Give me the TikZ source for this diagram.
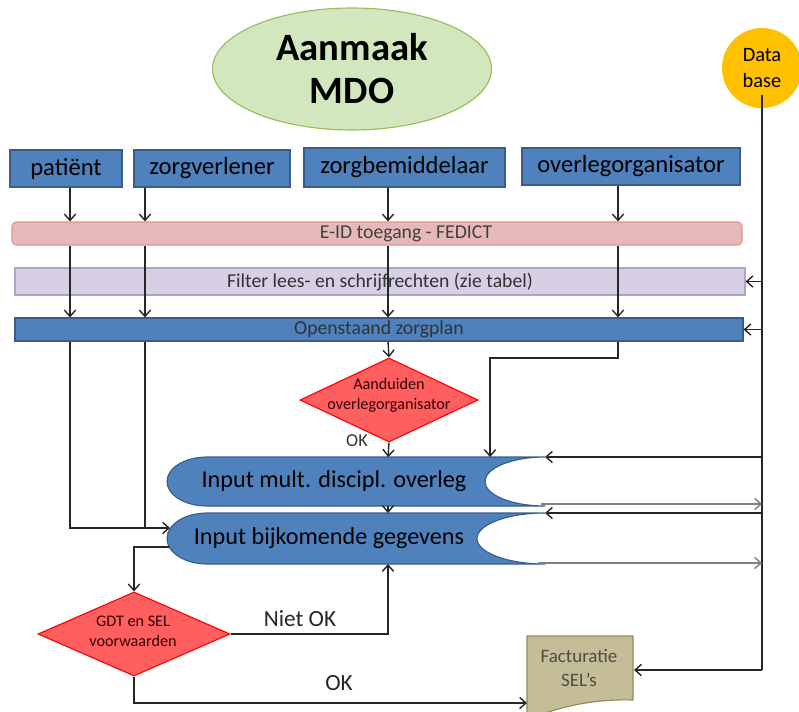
\documentclass[tikz,border=0pt]{standalone}
\usepackage{fontspec}
\setmainfont{Carlito}
\usetikzlibrary{shapes.geometric,arrows.meta,positioning}

\definecolor{blauw}{HTML}{4F81BD}
\definecolor{blauwrand}{HTML}{385D8A}
\definecolor{roze}{HTML}{E6B9B8}
\definecolor{rozerand}{HTML}{D99694}
\definecolor{lila}{HTML}{D7CFE4}
\definecolor{lilarand}{HTML}{B3A2C7}
\definecolor{rood}{HTML}{FF5F5F}
\definecolor{groen}{HTML}{D3E7BF}
\definecolor{groenrand}{HTML}{9BBB59}
\definecolor{oranje}{HTML}{FFC000}
\definecolor{kaki}{HTML}{C4BD97}
\definecolor{kakirand}{HTML}{948A54}

\newcommand{\pxs}{0.025cm}

\tikzset{
    actor/.style={
           rectangle,
           draw=blauwrand, fill=blauw, line width=0.8pt,
           minimum height=37*\pxs,
           inner sep=0pt,
           text=black,
           font=\fontsize{17.5}{20}\selectfont,
           },
    balk/.style={
           rectangle,
           line width=0.8pt,
           inner sep=0pt,
           minimum width=730*\pxs,
           text=black!80,
           },
    keuze/.style={
           diamond,
           draw=red, fill=rood, line width=0.8pt,
           inner sep=0pt,
           },
    keuzetekst/.style={
           align=center,
           text=red!20!black,
           font=\fontsize{11.5}{14}\selectfont,
           },
    invoer/.style={
           draw=blauwrand, fill=blauw, line width=0.8pt,
           },
    invoertekst/.style={
           text=black,
           font=\fontsize{17.2}{19}\selectfont,
           },
    pijl/.style={
           -{Straight Barb[length=4.5pt,width=8pt]},
           line width=1pt, draw=black!85,
           },
    grijs/.style={draw=black!50},
    etiket/.style={font=\fontsize{16.5}{19}\selectfont, text=black!85},
}

\begin{document}
\begin{tikzpicture}[x=\pxs, y=-\pxs]
    \useasboundingbox (0,0) rectangle (799,711);

    % titel en database
    \node[ellipse, draw=groenrand, fill=groen, line width=0.8pt,
        minimum width=279*\pxs, minimum height=122*\pxs, inner sep=0pt,
        align=center, font=\bfseries\fontsize{27.5}{30.5}\selectfont] (titel) at (352,69) {Aanmaak\\MDO};
    \node[circle, fill=oranje, minimum size=80*\pxs, inner sep=0pt,
        align=center, font=\fontsize{14.5}{18}\selectfont] (db) at (762,68) {Data\\base};

    % actoren
    \node[actor, minimum width=112*\pxs] (patient) at (66,168.5) {patiënt};
    \node[actor, minimum width=156*\pxs] (zorgverlener) at (212,168.5) {zorgverlener};
    \node[actor, minimum width=201*\pxs, minimum height=39*\pxs] (zorgbemiddelaar) at (404.5,167.5) {zorgbemiddelaar};
    \node[actor, minimum width=218*\pxs] (overleg) at (631,166.5) {overlegorganisator};

    % balken
    \node[balk, draw=rozerand, fill=roze, rounded corners=3pt, minimum height=23*\pxs] (eid) at (377,233.5) {};
    \node[text=black!75, font=\fontsize{14}{16}\selectfont] (eidtekst) at (406,233.5) {E-ID toegang - FEDICT};
    \node[balk, draw=lilarand, fill=lila, minimum height=27*\pxs,
        font=\fontsize{14}{16}\selectfont] (filter) at (380,281.5) {Filter lees- en schrijfrechten (zie tabel)};
    \node[balk, draw=blauwrand, fill=blauw, minimum width=728*\pxs, minimum height=23*\pxs,
        font=\fontsize{14}{16}\selectfont] (zorgplan) at (379,329.5) {Openstaand zorgplan};

    % keuzes
    \node[keuze, minimum width=178*\pxs, minimum height=84*\pxs] (aanduiden) at (389,400) {};
    \node[keuzetekst] (aanduidentekst) at (389,395) {Aanduiden\\overlegorganisator};
    \node[keuze, minimum width=192*\pxs, minimum height=84*\pxs] (gdt) at (134,634) {};
    \node[keuzetekst] (gdttekst) at (133,631) {GDT en SEL\\voorwaarden};

    % invoer (links bol, rechts hol)
    \path[invoer] (207,457) -- (545,457) arc[start angle=270, end angle=90, x radius=60, y radius=24.5]
        -- (207,506) arc[start angle=90, end angle=270, x radius=40, y radius=24.5] -- cycle;
    \path[invoer] (207,513) -- (545,513) arc[start angle=270, end angle=90, x radius=68, y radius=25.5]
        -- (207,564) arc[start angle=90, end angle=270, x radius=40, y radius=25.5] -- cycle;
    \node[invoertekst] (mult) at (334,481.5) {Input mult. discipl. overleg};
    \node[invoertekst] (bijk) at (329,538.5) {Input bijkomende gegevens};
    \coordinate (mult-n) at (388,457);
    \coordinate (mult-s) at (388,506);
    \coordinate (mult-ne) at (545,457);
    \coordinate (mult-se) at (541,504);
    \coordinate (bijk-n) at (388,513);
    \coordinate (bijk-s) at (388,564);
    \coordinate (bijk-ne) at (545,513);
    \coordinate (bijk-se) at (538,563);
    \coordinate (bijk-w) at (170,528);
    \coordinate (bijk-wo) at (169,547);

    % facturatie (document)
    \path[draw=kakirand, fill=kaki, line width=0.8pt]
        (527,636) -- (633,636) -- (633,700) .. controls (600,699) and (565,704) .. (527,720) -- cycle;
    \node[align=center, text=black!70, font=\fontsize{13.5}{17}\selectfont] (fact) at (579,668) {Facturatie\\SEL's};
    \coordinate (fact-w) at (527,703);
    \coordinate (fact-e) at (634,670);

    % pijlen van de actoren naar E-ID en zorgplan
    \foreach \xa/\van in {70/patient, 145/zorgverlener, 388/zorgbemiddelaar, 618/overleg}{
        \coordinate (lijn-\van) at (\xa,0);
        \draw[pijl] (\van.south -| lijn-\van) -- (eid.north -| lijn-\van);
        \draw[pijl] (eid.south -| lijn-\van) -- (zorgplan.north -| lijn-\van);
    }

    % database
    \coordinate (dbtop) at (762,95);
    \coordinate (dbvoet) at (762,670);
    \draw[line width=1pt, draw=black!85] (dbtop) -- (dbvoet);
    \draw[pijl] (filter.east -| dbvoet) -- (filter.east);
    \draw[pijl] (zorgplan.east -| dbvoet) -- (zorgplan.east);
    \draw[pijl] (mult-ne -| dbvoet) -- (mult-ne);
    \draw[pijl, grijs] (mult-se) -- (mult-se -| dbvoet);
    \draw[pijl] (bijk-ne -| dbvoet) -- (bijk-ne);
    \draw[pijl, grijs] (bijk-se) -- (bijk-se -| dbvoet);
    \draw[pijl] (dbvoet) -- (fact-e);

    % stroom
    \draw[pijl] (zorgplan.south -| lijn-zorgbemiddelaar) -- (aanduiden.north);
    \draw[pijl] (aanduiden.south) -- (mult-n);
    \node[text=black!80, font=\fontsize{13}{15}\selectfont] (okeen) at (357,441) {OK};
    \coordinate (knik) at (490,358);
    \draw[pijl] (zorgplan.south -| lijn-overleg) |- (knik) -- (knik |- mult-n);
    \draw[pijl] (zorgplan.south -| lijn-patient) |- (bijk-w);
    \draw[line width=1pt, draw=black!85] (zorgplan.south -| lijn-zorgverlener) -- (bijk-w -| lijn-zorgverlener);
    \draw[pijl] (mult-s) -- (bijk-n);
    \draw[pijl] (bijk-wo) -| (gdt.north);
    \draw[pijl] (gdt.east) -| (bijk-s);
    \node[etiket] (nietok) at (300,619) {Niet OK};
    \draw[pijl] (gdt.south) |- (fact-w);
    \node[etiket] (ok) at (339,683) {OK};
\end{tikzpicture}
\end{document}
